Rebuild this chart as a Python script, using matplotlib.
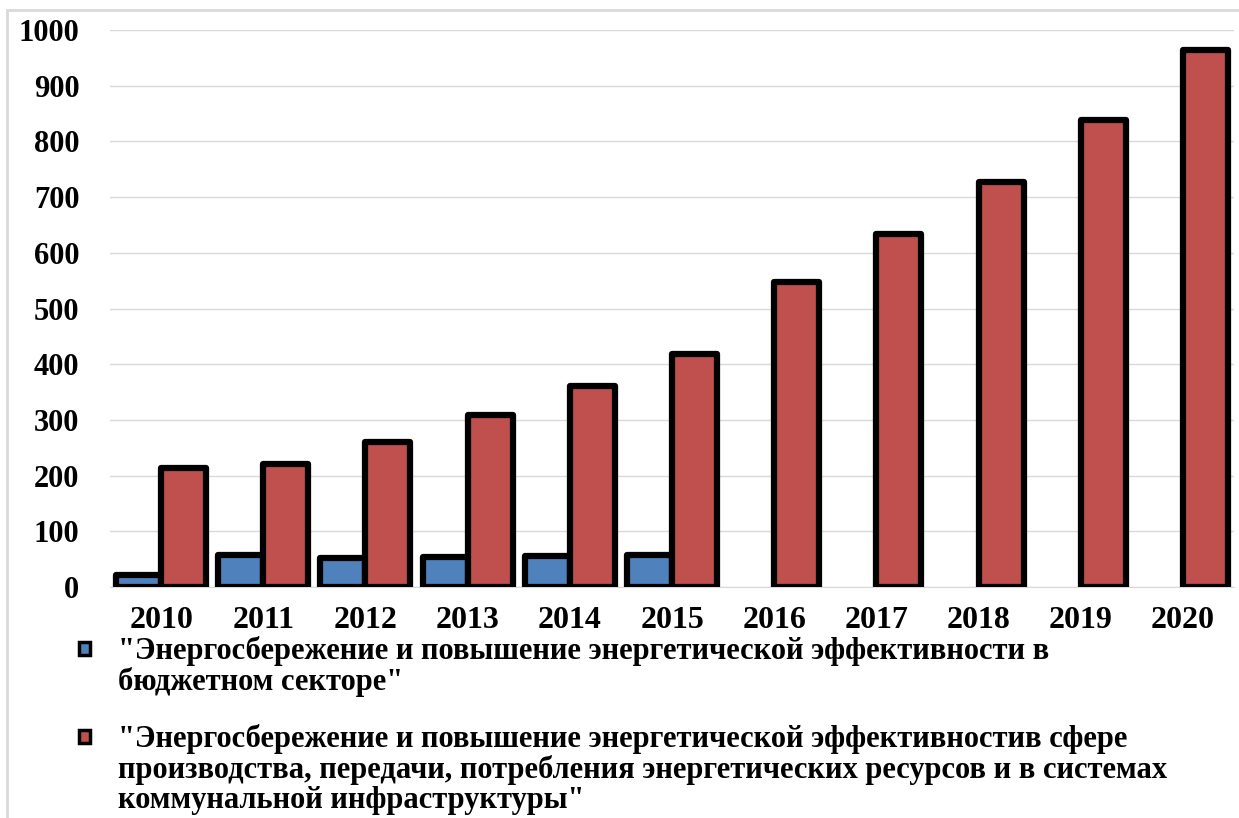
import numpy as np
import matplotlib
matplotlib.use("Agg")
import matplotlib.pyplot as plt
from matplotlib.patches import Rectangle

years = ["2010", "2011", "2012", "2013", "2014", "2015",
         "2016", "2017", "2018", "2019", "2020"]
budget = [21, 57, 52, 53, 55, 57]
production = [214, 221, 261, 308, 360, 418, 548, 634, 728, 839, 964]
series_labels = [
    "\"Энергосбережение и повышение энергетической эффективности в\n"
    "бюджетном секторе\"",
    "\"Энергосбережение и повышение энергетической эффективностив сфере\n"
    "производства, передачи, потребления энергетических ресурсов и в системах\n"
    "коммунальной инфраструктуры\"",
]
colors = ["#4F81BD", "#C0504D"]
yticks = list(range(0, 1001, 100))

plt.rcParams["font.family"] = ["Liberation Serif", "DejaVu Serif"]
plt.rcParams["font.weight"] = "bold"

W, H = 1239, 818
fig = plt.figure(figsize=(W / 100, H / 100), dpi=100)
ax = fig.add_axes([110 / W, (H - 587) / H, 1124 / W, 557 / H])

x = np.arange(len(years))
w = 0.44
ax.bar(x[:len(budget)] - w / 2, budget, w, color=colors[0],
       edgecolor="black", linewidth=4.5, joinstyle="round", zorder=3)
ax.bar(x + w / 2, production, w, color=colors[1],
       edgecolor="black", linewidth=4.5, joinstyle="round", zorder=3)

ax.set_xlim(-0.5, len(years) - 0.5)
ax.set_ylim(0, 1000)
ax.set_yticks(yticks)
ax.set_xticks(x)
ax.set_xticklabels(years)
ax.tick_params(axis="both", length=0)
ax.tick_params(axis="y", pad=22, labelsize=22)
ax.tick_params(axis="x", pad=14, labelsize=23)
for lbl in ax.get_xticklabels() + ax.get_yticklabels():
    lbl.set_fontweight("bold")
ax.grid(axis="y", color="#D9D9D9", linewidth=1, zorder=0)
for s in ["left", "right", "top"]:
    ax.spines[s].set_visible(False)
ax.spines["bottom"].set_color("#D9D9D9")
ax.spines["bottom"].set_zorder(1)

# legend below the plot
legend_tops = [636, 724]
for top, lbl, c in zip(legend_tops, series_labels, colors):
    fig.patches.append(Rectangle((79 / W, (H - top - 19) / H), 11 / W, 13 / H,
                                 transform=fig.transFigure, facecolor=c,
                                 edgecolor="black", linewidth=2.5))
    fig.text(118 / W, (H - top) / H, lbl, fontsize=22, fontweight="bold",
             va="top", ha="left", linespacing=1.05)

# chart frame
fig.patches.append(Rectangle((7 / W, -0.05), 1.2, (H - 10) / H + 0.05,
                             transform=fig.transFigure, fill=False,
                             edgecolor="#D9D9D9", linewidth=2))

fig.savefig("out.png", dpi=100)
